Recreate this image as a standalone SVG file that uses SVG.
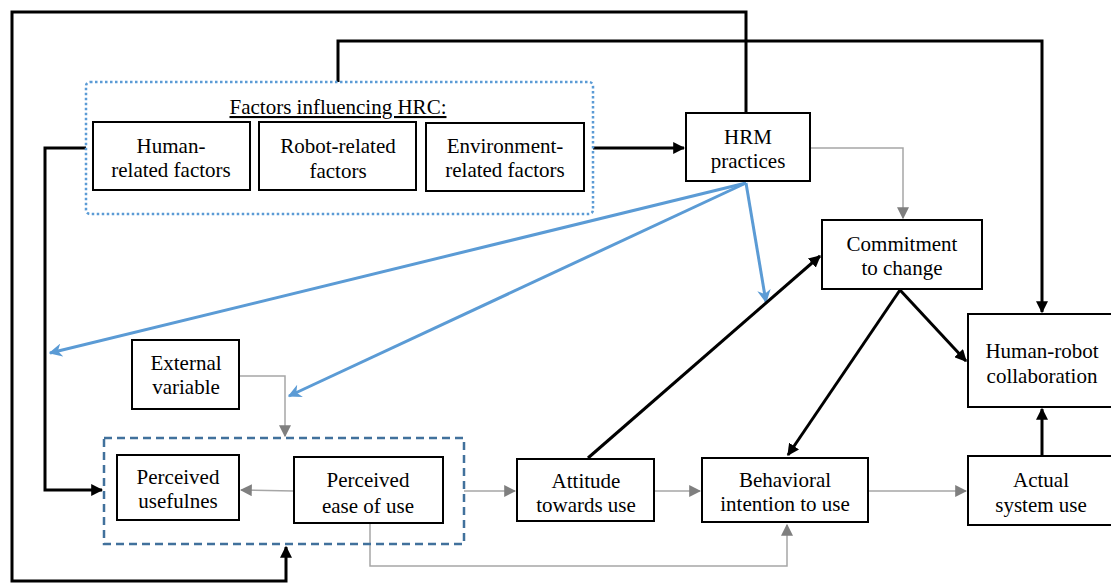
<svg xmlns="http://www.w3.org/2000/svg" width="1111" height="584" viewBox="0 0 1111 584" font-family="Liberation Serif, DejaVu Serif, serif">
  <defs>
    <marker id="ah-black" viewBox="0 0 10 10" refX="9" refY="5" markerWidth="4" markerHeight="4" orient="auto" markerUnits="strokeWidth">
      <path d="M0,0 L10,5 L0,10 Z" fill="#000"/>
    </marker>
    <marker id="ah-gray" viewBox="0 0 10 10" refX="9" refY="5" markerWidth="8" markerHeight="8" orient="auto" markerUnits="strokeWidth">
      <path d="M0,0 L10,5 L0,10 Z" fill="#7f7f7f"/>
    </marker>
    <marker id="ah-blue" viewBox="0 0 10 10" refX="9" refY="5" markerWidth="4.5" markerHeight="4.5" orient="auto" markerUnits="strokeWidth">
      <path d="M0,0 L10,5 L0,10 L3,5 Z" fill="#5b9bd5"/>
    </marker>
    <style>
      .box { fill: #fff; stroke: #000; stroke-width: 2; }
      text { font-family: 'Liberation Serif', 'Times New Roman', serif; font-size: 21px; fill: #000; text-anchor: middle; }
      .k { fill: none; stroke: #000; stroke-width: 3; }
      .g { fill: none; stroke: #a6a6a6; stroke-width: 1.5; }
      .b { fill: none; stroke: #5b9bd5; stroke-width: 3; }
    </style>
  </defs>
  <rect width="1111" height="584" fill="#fff"/>

  <!-- connectors -->
  <g id="connectors">
    <!-- feedback loop from HRM practices to the TAM core -->
    <polyline class="k" points="746,113 746,12 12,12 12,581 286,581 286,547" marker-end="url(#ah-black)"/>
    <!-- factors to human-robot collaboration -->
    <polyline class="k" points="338,82 338,41 1042,41 1042,312" marker-end="url(#ah-black)"/>
    <!-- factors to perceived usefulness side -->
    <polyline class="k" points="86,148 45,148 45,490 102,490" marker-end="url(#ah-black)"/>
    <!-- factors to HRM -->
    <line class="k" x1="593" y1="148" x2="684" y2="148" marker-end="url(#ah-black)"/>
    <!-- HRM to commitment -->
    <polyline class="g" points="810,148 903,148 903,218" marker-end="url(#ah-gray)"/>
    <!-- HRM influences (blue) -->
    <line class="b" x1="746" y1="183" x2="50" y2="353" marker-end="url(#ah-blue)"/>
    <line class="b" x1="746" y1="183" x2="289" y2="396" marker-end="url(#ah-blue)"/>
    <line class="b" x1="746" y1="183" x2="766" y2="302" marker-end="url(#ah-blue)"/>
    <!-- attitude to commitment -->
    <line class="k" x1="588" y1="458" x2="820" y2="256" marker-end="url(#ah-black)"/>
    <!-- commitment to collaboration and intention -->
    <line class="k" x1="900" y1="290" x2="966" y2="361" marker-end="url(#ah-black)"/>
    <line class="k" x1="900" y1="290" x2="788" y2="455" marker-end="url(#ah-black)"/>
    <!-- actual use to collaboration -->
    <line class="k" x1="1042" y1="456" x2="1042" y2="409" marker-end="url(#ah-black)"/>
    <!-- TAM chain -->
    <polyline class="g" points="239,376 285,376 285,436" marker-end="url(#ah-gray)"/>
    <line class="g" x1="294" y1="491" x2="241" y2="490" marker-end="url(#ah-gray)"/>
    <line class="g" x1="464" y1="491" x2="515" y2="491" marker-end="url(#ah-gray)"/>
    <line class="g" x1="654" y1="491" x2="700" y2="491" marker-end="url(#ah-gray)"/>
    <line class="g" x1="868" y1="491" x2="966" y2="491" marker-end="url(#ah-gray)"/>
    <polyline class="g" points="370,523 370,566 787,566 787,525" marker-end="url(#ah-gray)"/>
  </g>

  <!-- factors group -->
  <g id="factors">
    <rect x="86" y="82" width="507" height="132" rx="4" fill="none" stroke="#5b9bd5" stroke-width="2.5" stroke-dasharray="2.5 2.5"/>
    <text x="338" y="114" text-decoration="underline">Factors influencing HRC:</text>
  </g>
  <g id="human-factors">
    <rect class="box" x="93" y="122" width="157" height="68"/>
    <text x="171" y="153">Human-</text>
    <text x="171" y="177">related factors</text>
  </g>
  <g id="robot-factors">
    <rect class="box" x="259" y="122" width="157" height="68"/>
    <text x="338" y="153">Robot-related</text>
    <text x="338" y="178">factors</text>
  </g>
  <g id="environment-factors">
    <rect class="box" x="426" y="123" width="158" height="68"/>
    <text x="505" y="153">Environment-</text>
    <text x="505" y="177">related factors</text>
  </g>

  <g id="hrm">
    <rect class="box" x="686" y="113" width="124" height="68"/>
    <text x="748" y="144">HRM</text>
    <text x="748" y="168">practices</text>
  </g>

  <g id="commitment">
    <rect class="box" x="822" y="220" width="160" height="69"/>
    <text x="902" y="251">Commitment</text>
    <text x="902" y="275">to change</text>
  </g>

  <g id="collaboration">
    <rect class="box" x="968" y="314" width="145" height="93"/>
    <text x="1042" y="358">Human-robot</text>
    <text x="1042" y="383">collaboration</text>
  </g>

  <g id="external">
    <rect class="box" x="132" y="340" width="107" height="69"/>
    <text x="186" y="370">External</text>
    <text x="186" y="394">variable</text>
  </g>

  <g id="tam-core">
    <rect x="104" y="438" width="360" height="106" fill="none" stroke="#41719c" stroke-width="2.5" stroke-dasharray="8 5"/>
  </g>
  <g id="usefulness">
    <rect class="box" x="117" y="455" width="122" height="65"/>
    <text x="178" y="484">Perceived</text>
    <text x="178" y="508">usefulnes</text>
  </g>
  <g id="ease">
    <rect class="box" x="294" y="457" width="149" height="66"/>
    <text x="368" y="487">Perceived</text>
    <text x="368" y="513">ease of use</text>
  </g>

  <g id="attitude">
    <rect class="box" x="517" y="459" width="137" height="62"/>
    <text x="586" y="488">Attitude</text>
    <text x="586" y="512">towards use</text>
  </g>

  <g id="intention">
    <rect class="box" x="702" y="458" width="166" height="64"/>
    <text x="785" y="487">Behavioral</text>
    <text x="785" y="511">intention to use</text>
  </g>

  <g id="actual-use">
    <rect class="box" x="968" y="456" width="145" height="69"/>
    <text x="1041" y="487">Actual</text>
    <text x="1041" y="512">system use</text>
  </g>
</svg>
